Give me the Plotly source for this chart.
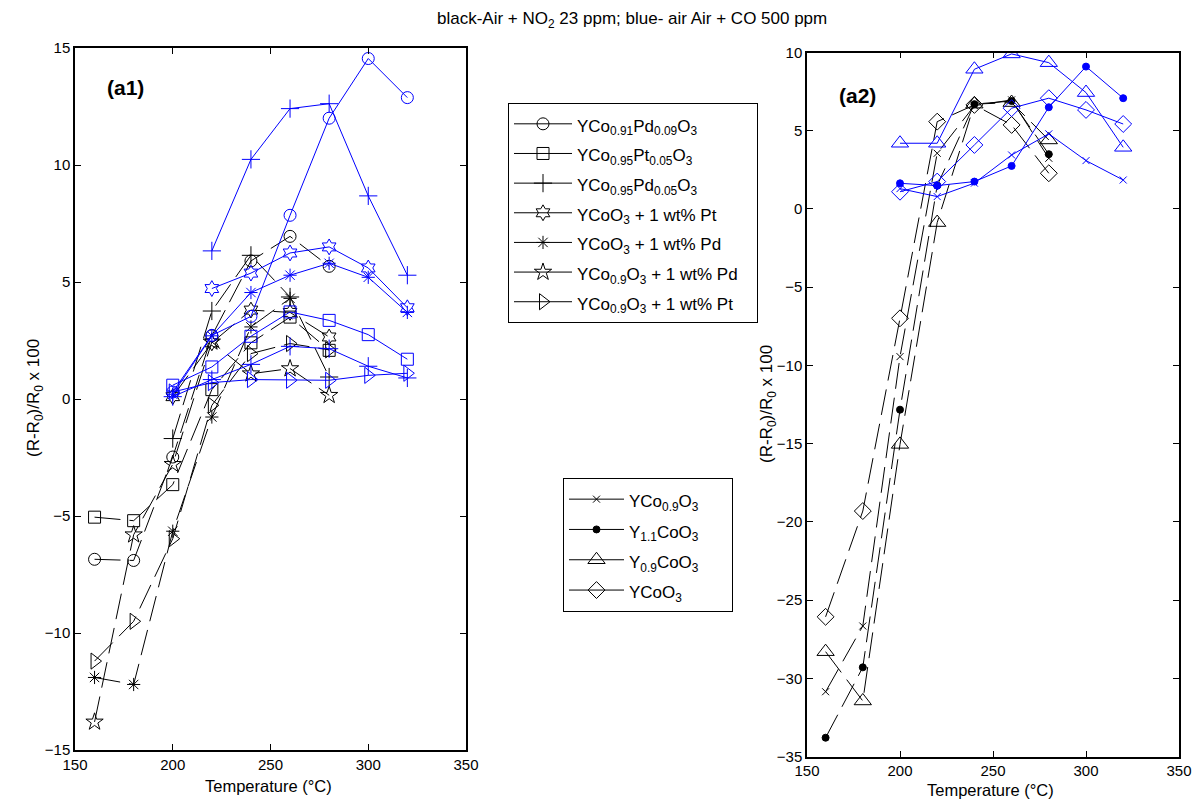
import plotly.graph_objects as go

N = None
W, H = 1194, 801

# ---------------- panel (a1) data ----------------
a1_T_black = [160, 180, 200, 220, 240, 260, 280]
a1_black_circle = [-6.85, -6.9, -2.48, 2.7, 5.9, 6.95, 5.67]
a1_black_square = [-5.05, -5.2, -3.66, 0.4, 2.4, 3.5, 2.08]
a1_black_plus = [N, N, -1.69, 3.76, 6.14, 4.36, 0.94]
a1_black_hexagram = [N, N, 0.1, 2.4, 3.8, 3.7, 2.65]
a1_black_asterisk = [-11.9, -12.2, -5.65, -0.77, 3.08, 4.3, N]
a1_black_star = [-13.8, -5.8, -2.79, 2.44, 1.08, 1.3, 0.16]
a1_black_triangle = [-11.2, -9.5, -5.97, -0.27, 1.94, 2.37, 2.1]

a1_T_blue = [200, 220, 240, 260, 280, 300, 320]
a1_blue_circle = [0.3, 2.72, 3.53, 7.85, 12.0, 14.55, 12.88]
a1_blue_square = [0.59, 1.37, 2.68, 3.72, 3.36, 2.75, 1.7]
a1_blue_plus = [N, 6.33, 10.24, 12.41, 12.62, 8.68, 5.29]
a1_blue_hexagram = [N, 4.72, 5.38, 6.24, 6.5, 5.6, 3.9]
a1_blue_asterisk = [0.2, 2.7, 4.55, 5.29, 5.8, 5.2, 3.7]
a1_blue_triangle = [0.3, 0.7, 0.83, 0.8, 0.8, 1.01, 1.1]
a1_blue_plus2 = [0.1, 0.83, 1.48, 2.25, 2.15, 1.4, 0.9]

# ---------------- panel (a2) data ----------------
a2_T_black = [160, 180, 200, 220, 240, 260, 280]
a2_black_x = [-30.86, -26.66, -9.44, 3.56, 6.6, 6.97, 3.24]
a2_black_dot = [-33.8, -29.3, -12.83, 1.5, 6.7, 6.9, 3.5]
a2_black_triangle = [-28.3, -31.45, -15.05, -0.87, 6.7, 6.8, 4.41]
a2_black_diamond = [-26.07, -19.31, -6.99, 5.58, 6.65, 5.37, 2.28]

a2_T_blue = [200, 220, 240, 260, 280, 300, 320]
a2_blue_x = [1.3, 0.79, 1.65, 3.45, 4.8, 3.09, 1.85]
a2_blue_dot = [1.64, 1.49, 1.75, 2.75, 6.5, 9.1, 7.08]
a2_blue_triangle = [4.2, 4.2, 8.93, 9.91, 9.35, 7.44, 3.94]
a2_blue_diamond = [1.1, 1.75, 4.09, 6.44, 7.08, 6.33, 5.43]

legend1_names = [
    "YCo<sub>0.91</sub>Pd<sub>0.09</sub>O<sub>3</sub>",
    "YCo<sub>0.95</sub>Pt<sub>0.05</sub>O<sub>3</sub>",
    "YCo<sub>0.95</sub>Pd<sub>0.05</sub>O<sub>3</sub>",
    "YCoO<sub>3</sub> + 1 wt% Pt",
    "YCoO<sub>3</sub> + 1 wt% Pd",
    "YCo<sub>0.9</sub>O<sub>3</sub> + 1 wt% Pd",
    "YCo<sub>0.9</sub>O<sub>3</sub> + 1 wt% Pt",
]
legend2_names = [
    "YCo<sub>0.9</sub>O<sub>3</sub>",
    "Y<sub>1.1</sub>CoO<sub>3</sub>",
    "Y<sub>0.9</sub>CoO<sub>3</sub>",
    "YCoO<sub>3</sub>",
]

BLUE = "#0000ff"
BLACK = "#000000"
DASH = "26px,9px"

SYM = {
    "circle": ("circle-open", 12),
    "square": ("square-open", 12),
    "plus": ("cross-thin-open", 13),
    "hexagram": ("hexagram-open", 12),
    "asterisk": ("asterisk-open", 11),
    "star": ("star-open", 13),
    "triangle": ("triangle-right-open", 14),
    "x": ("x-thin-open", 7),
    "dot": ("circle", 7),
    "tri_up": ("triangle-up-open", 15),
    "diamond": ("diamond-open", 13),
}


def marker(kind, color):
    sym, size = SYM[kind]
    return dict(symbol=sym, size=size, color=color, line=dict(color=color, width=1))


fig = go.Figure()


def add(T, vals, kind, color, axis, dash="solid"):
    xa, ya = ("x", "y") if axis == 1 else ("x2", "y2")
    fig.add_trace(go.Scatter(
        x=T, y=vals, mode="lines+markers", xaxis=xa, yaxis=ya,
        line=dict(color=color, width=1, dash=dash),
        marker=marker(kind, color), showlegend=False, hoverinfo="skip",
        connectgaps=False,
    ))


for vals, kind in [(a1_black_circle, "circle"), (a1_black_square, "square"),
                   (a1_black_plus, "plus"), (a1_black_hexagram, "hexagram"),
                   (a1_black_asterisk, "asterisk"), (a1_black_star, "star"),
                   (a1_black_triangle, "triangle")]:
    add(a1_T_black, vals, kind, BLACK, 1, DASH)
for vals, kind in [(a1_blue_circle, "circle"), (a1_blue_square, "square"),
                   (a1_blue_plus, "plus"), (a1_blue_hexagram, "hexagram"),
                   (a1_blue_asterisk, "asterisk"), (a1_blue_triangle, "triangle"),
                   (a1_blue_plus2, "plus")]:
    add(a1_T_blue, vals, kind, BLUE, 1)

for vals, kind in [(a2_black_x, "x"), (a2_black_dot, "dot"),
                   (a2_black_triangle, "tri_up"), (a2_black_diamond, "diamond")]:
    add(a2_T_black, vals, kind, BLACK, 2, DASH)
for vals, kind in [(a2_blue_x, "x"), (a2_blue_dot, "dot"),
                   (a2_blue_triangle, "tri_up"), (a2_blue_diamond, "diamond")]:
    add(a2_T_blue, vals, kind, BLUE, 2)

LEG_TXT = '<span style="font-size:17px">{}</span>'

for i, (name, kind) in enumerate(zip(legend1_names, ["circle", "square", "plus", "hexagram",
                                                     "asterisk", "star", "triangle"])):
    txt = name + ("&nbsp;" * 3 if i == 5 else "")
    fig.add_trace(go.Scatter(x=[N], y=[N], mode="lines+markers", name=LEG_TXT.format(txt),
                             line=dict(color=BLACK, width=1), marker=marker(kind, BLACK),
                             legend="legend", xaxis="x", yaxis="y"))
for i, (name, kind) in enumerate(zip(legend2_names, ["x", "dot", "tri_up", "diamond"])):
    txt = name + ("&nbsp;" * 6 if i == 2 else "")
    fig.add_trace(go.Scatter(x=[N], y=[N], mode="lines+markers", name=LEG_TXT.format(txt),
                             line=dict(color=BLACK, width=1), marker=marker(kind, BLACK),
                             legend="legend2", xaxis="x2", yaxis="y2"))


def px_x(p):
    return p / W


def px_y(p):
    return 1 - p / H


axis_common = dict(showline=True, linecolor="black", linewidth=1.5, mirror="ticks",
                   ticks="inside", ticklen=6, tickcolor="black", showgrid=False,
                   zeroline=False, tickfont=dict(size=15, color="black"))

fig.update_layout(
    width=W, height=H, margin=dict(l=0, r=0, t=0, b=0),
    paper_bgcolor="white", plot_bgcolor="white", template="none",
    font=dict(family="Liberation Sans, Arial, sans-serif", size=15, color="black"),
    xaxis=dict(domain=[px_x(75), px_x(466)], range=[150, 350], tickvals=[150, 200, 250, 300, 350],
               anchor="y", **axis_common),
    yaxis=dict(domain=[px_y(750), px_y(48)], range=[-15, 15], tickvals=list(range(-15, 16, 5)),
               anchor="x", **axis_common),
    xaxis2=dict(domain=[px_x(807), px_x(1179)], range=[150, 350], tickvals=[150, 200, 250, 300, 350],
                anchor="y2", **axis_common),
    yaxis2=dict(domain=[px_y(756.5), px_y(52.5)], range=[-35, 10], tickvals=list(range(-35, 11, 5)),
                anchor="x2", **axis_common),
    legend=dict(x=px_x(508), y=px_y(103), xanchor="left", yanchor="top",
                bordercolor="black", borderwidth=1, bgcolor="white",
                font=dict(size=20.5), tracegroupgap=0, itemwidth=58),
    legend2=dict(x=px_x(563), y=px_y(478), xanchor="left", yanchor="top",
                 bordercolor="black", borderwidth=1, bgcolor="white",
                 font=dict(size=21), tracegroupgap=0, itemwidth=55),
    showlegend=True,
)

annots = [
    dict(text="black-Air + NO<sub>2</sub> 23 ppm; blue- air Air + CO 500 ppm", x=px_x(632), y=px_y(20),
         font=dict(size=17)),
    dict(text="<b>(a1)</b>", x=px_x(125), y=px_y(87), font=dict(size=21)),
    dict(text="<b>(a2)</b>", x=px_x(857), y=px_y(96), font=dict(size=21)),
    dict(text="Temperature (°C)", x=px_x(268), y=px_y(786), font=dict(size=16.5)),
    dict(text="Temperature (°C)", x=px_x(991), y=px_y(790), font=dict(size=16.5)),
    dict(text="(R-R<sub>0</sub>)/R<sub>0</sub> x 100", x=px_x(35), y=px_y(398), textangle=-90,
         font=dict(size=17)),
    dict(text="(R-R<sub>0</sub>)/R<sub>0</sub> x 100", x=px_x(768), y=px_y(404), textangle=-90,
         font=dict(size=17)),
]
for a in annots:
    fig.add_annotation(xref="paper", yref="paper", showarrow=False, xanchor="center",
                       yanchor="middle", **a)

fig.write_html("out.html", post_script="document.body.style.margin='0px';",
               config={"displayModeBar": False})
